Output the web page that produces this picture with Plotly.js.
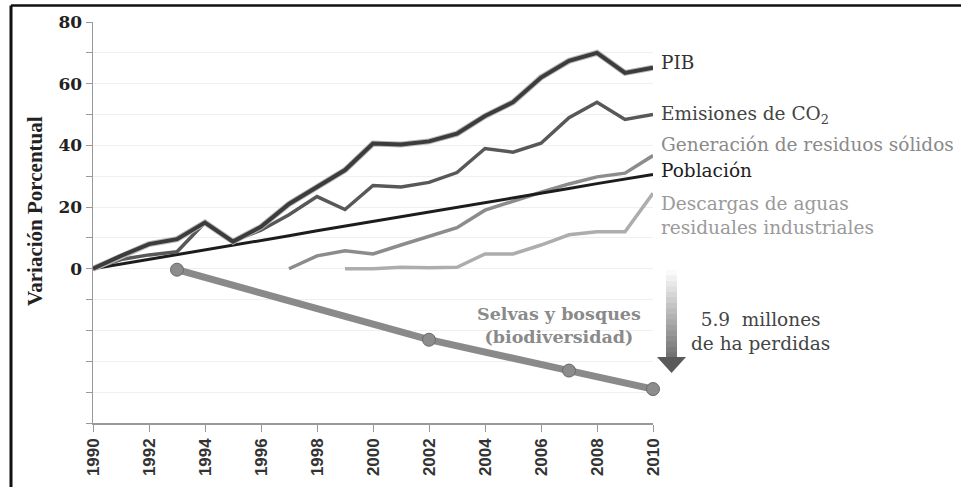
<!DOCTYPE html>
<html>
<head>
<meta charset="utf-8">
<script src="https://cdn.plot.ly/plotly-3.0.1.min.js"></script>
<style>html,body{margin:0;padding:0;background:#fff;}#chart{width:961px;height:487px;}</style>
</head>
<body>
<div id="chart"></div>
<script>
// ---- data ----
const years = [1990,1991,1992,1993,1994,1995,1996,1997,1998,1999,2000,2001,2002,2003,2004,2005,2006,2007,2008,2009,2010];
const pib = [0,4.2,8,9.6,15,8.8,13.6,21,26.5,32,40.6,40.3,41.3,43.8,49.5,54,62,67.4,70,63.5,65.2];
const co2 = [0,3,4.5,5.5,15,9,12.5,17.5,23.4,19.2,27,26.5,28,31.2,39,37.8,40.7,49,54,48.4,50];
const poblacion = [0,1.5,3.1,4.6,6.1,7.7,9.2,10.7,12.3,13.8,15.3,16.8,18.4,19.9,21.4,23,24.5,26,27.6,29.1,30.6];
const residuosYears = [1997,1998,1999,2000,2001,2002,2003,2004,2005,2006,2007,2008,2009,2010];
const residuos = [0,4.2,5.8,4.8,7.7,10.4,13.3,19,22,24.8,27.5,29.8,31,36.7];
const descargasYears = [1999,2000,2001,2002,2003,2004,2005,2006,2007,2008,2009,2010];
const descargas = [0,0,0.5,0.3,0.5,4.8,4.8,7.7,11,12,12,24.5];
const selvasYears = [1993,2002,2007,2010];
const selvas = [-0.3,-23,-33,-39];
const xTicks = [1990,1992,1994,1996,1998,2000,2002,2004,2006,2008,2010];
const yTicks = [-50,-40,-30,-20,-10,0,10,20,30,40,50,60,70,80];
const yTickText = [' ',' ',' ',' ',' ','0',' ','20',' ','40',' ','60',' ','80'];

// ---- geometry helpers (plot area in pixels) ----
const L = 93, R = 653, T = 22, B = 423;
const px = p => (p - L) / (R - L);
const py = p => (B - p) / (B - T);

const traces = [
  {x: selvasYears, y: selvas, mode: 'lines+markers', line: {color: '#8a8a8a', width: 7},
   marker: {color: '#8c8c8c', size: 13, line: {color: '#6a6a6a', width: 1}}, cliponaxis: false},
  {x: descargasYears, y: descargas, mode: 'lines', line: {color: '#adadad', width: 3.5}, cliponaxis: false},
  {x: residuosYears, y: residuos, mode: 'lines', line: {color: '#8c8c8c', width: 3.5}, cliponaxis: false},
  {x: years, y: poblacion, mode: 'lines', line: {color: '#1c1c1c', width: 3}, cliponaxis: false},
  {x: years, y: co2, mode: 'lines', line: {color: '#585858', width: 3.5}, cliponaxis: false},
  {x: years, y: pib, mode: 'lines', line: {color: '#b8b8b8', width: 6}, cliponaxis: false},
  {x: years, y: pib, mode: 'lines', line: {color: '#3c3c3c', width: 4}, cliponaxis: false}
];

const serif = 'DejaVu Serif';
function ann(text, x, y, opts) {
  return Object.assign({text: text, xref: 'paper', yref: 'paper', x: px(x), y: py(y),
    xanchor: 'left', yanchor: 'middle', align: 'left', showarrow: false,
    font: {family: serif, size: 18.5, color: '#333'}}, opts || {});
}

const annotations = [
  ann('PIB', 659, 62, {font: {family: serif, size: 18.5, color: '#333'}}),
  ann('Emisiones de CO<sub>2</sub>', 659, 115, {font: {family: serif, size: 18.5, color: '#444'}}),
  ann('Generación de residuos sólidos', 659, 144, {font: {family: serif, size: 18.5, color: '#8a8a8a'}}),
  ann('Población', 659, 170, {font: {family: serif, size: 18.5, color: '#1e1e1e'}}),
  ann('Descargas de aguas<br>residuales industriales', 659, 215, {font: {family: serif, size: 18.5, color: '#9a9a9a'}}),
  ann('<b>Selvas y bosques</b><br><b>(biodiversidad)</b>', 559, 325,
      {xanchor: 'center', align: 'center', font: {family: serif, size: 17.5, color: '#8a8a8a'}}),
  ann('5.9\u00a0 millones<br>de ha perdidas', 760, 331,
      {xanchor: 'center', align: 'center', font: {family: serif, size: 18.5, color: '#444'}}),
  ann('<b>Variación Porcentual</b>', 35, 211,
      {xanchor: 'center', align: 'center', textangle: -90, font: {family: 'Liberation Serif', size: 21, color: '#222'}})
];

// gradient arrow (white -> dark gray) built from stacked strips
const shapes = [];
const shaftTop = 270, shaftBot = 358, nStrips = 16;
for (let i = 0; i < nStrips; i++) {
  const t = (i + 0.5) / nStrips;
  const c = Math.round(255 - t * (255 - 110));
  const y0 = shaftTop + (shaftBot - shaftTop) * i / nStrips;
  const y1 = shaftTop + (shaftBot - shaftTop) * (i + 1) / nStrips + 0.5;
  shapes.push({type: 'rect', xref: 'paper', yref: 'paper', x0: px(666), x1: px(677), y0: py(y0), y1: py(y1),
    fillcolor: `rgb(${c},${c},${c})`, line: {width: 0}, layer: 'above'});
}
shapes.push({type: 'path', xref: 'paper', yref: 'paper',
  path: `M ${px(657)} ${py(357)} L ${px(686)} ${py(357)} L ${px(671.5)} ${py(373)} Z`,
  fillcolor: '#5a5a5a', line: {width: 0}, layer: 'above'});
// frame (top and left edges)
shapes.push({type: 'line', xref: 'paper', yref: 'paper', x0: px(11), x1: px(961), y0: py(5.5), y1: py(5.5),
  line: {color: '#111', width: 2.5}});
shapes.push({type: 'line', xref: 'paper', yref: 'paper', x0: px(11), x1: px(11), y0: py(5.5), y1: py(487),
  line: {color: '#111', width: 3}});

const layout = {
  width: 961, height: 487, autosize: false,
  margin: {l: L, r: 961 - R, t: T, b: 487 - B, pad: 0},
  paper_bgcolor: '#fff', plot_bgcolor: '#fff',
  showlegend: false,
  xaxis: {range: [1990, 2010], tickvals: xTicks, tickangle: -90, ticks: 'outside', ticklen: 7,
    tickcolor: '#999', showline: true, linecolor: '#999', linewidth: 1.5, showgrid: false, zeroline: false,
    tickfont: {family: 'Liberation Sans', size: 17, color: '#333', weight: 'bold'}},
  yaxis: {range: [-50, 80], tickvals: yTicks, ticktext: yTickText, ticks: 'outside', ticklen: 6,
    tickcolor: '#999', showline: true, linecolor: '#999', linewidth: 1.5, showgrid: true, gridcolor: '#efefef',
    zeroline: false, tickfont: {family: serif, size: 17, color: '#222', weight: 'bold'}},
  annotations: annotations,
  shapes: shapes
};

Plotly.newPlot('chart', traces, layout, {staticPlot: true, displayModeBar: false});
</script>
</body>
</html>
